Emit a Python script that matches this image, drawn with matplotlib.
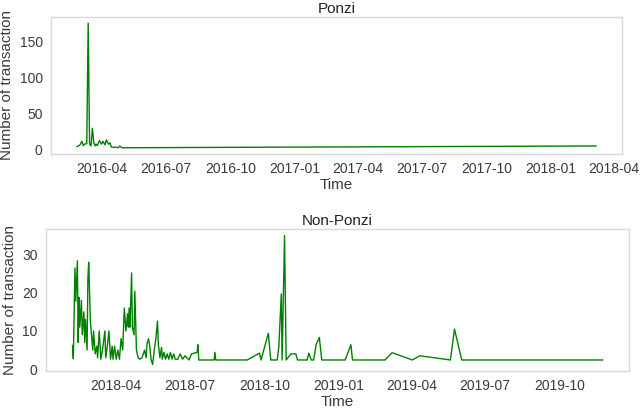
import matplotlib
matplotlib.use("Agg")
import matplotlib.pyplot as plt
import matplotlib.dates as mdates
import pandas as pd

# ponzi contracts: transactions per day
ponzi_dates = ["2016-02-25", "2016-02-29", "2016-03-03", "2016-03-05", "2016-03-07",
               "2016-03-10", "2016-03-12", "2016-03-14", "2016-03-16", "2016-03-18",
               "2016-03-20", "2016-03-22", "2016-03-23", "2016-03-25", "2016-03-28",
               "2016-03-31", "2016-04-02", "2016-04-05", "2016-04-07", "2016-04-10",
               "2016-04-12", "2016-04-14", "2016-04-17", "2016-04-19", "2016-04-24",
               "2016-04-26", "2016-04-29", "2018-03-06"]
ponzi_counts = [4.7, 6.4, 12, 6, 8,
                9, 176, 8, 5.6, 30,
                10, 5.6, 8, 6, 13,
                8, 12, 7, 14, 8,
                10, 4, 3.5, 4, 3,
                5.5, 3, 5.5]

# non-ponzi contracts
nonponzi_dates = ["2018-02-06", "2018-02-07", "2018-02-09", "2018-02-10", "2018-02-12",
                  "2018-02-13", "2018-02-14", "2018-02-15", "2018-02-17", "2018-02-18",
                  "2018-02-20", "2018-02-21", "2018-02-22", "2018-02-24", "2018-02-25",
                  "2018-02-26", "2018-02-28", "2018-03-01", "2018-03-03", "2018-03-04",
                  "2018-03-06", "2018-03-08", "2018-03-09", "2018-03-11", "2018-03-13",
                  "2018-03-15", "2018-03-18", "2018-03-19", "2018-03-21", "2018-03-23",
                  "2018-03-25", "2018-03-27", "2018-03-28", "2018-03-30", "2018-04-01",
                  "2018-04-03", "2018-04-05", "2018-04-07", "2018-04-09", "2018-04-11",
                  "2018-04-13", "2018-04-15", "2018-04-16", "2018-04-17", "2018-04-18",
                  "2018-04-20", "2018-04-21", "2018-04-23", "2018-04-24", "2018-04-26",
                  "2018-04-28", "2018-04-30", "2018-05-03", "2018-05-06", "2018-05-08",
                  "2018-05-09", "2018-05-11", "2018-05-13", "2018-05-14", "2018-05-16",
                  "2018-05-18", "2018-05-20", "2018-05-22", "2018-05-23", "2018-05-25",
                  "2018-05-27", "2018-05-28", "2018-05-30", "2018-06-01", "2018-06-03",
                  "2018-06-05", "2018-06-07", "2018-06-09", "2018-06-11", "2018-06-13",
                  "2018-06-16", "2018-06-19", "2018-06-22", "2018-06-25", "2018-06-30",
                  "2018-07-03", "2018-07-10", "2018-07-11", "2018-07-12", "2018-07-31",
                  "2018-08-01", "2018-08-02", "2018-09-10", "2018-09-25", "2018-09-27",
                  "2018-10-06", "2018-10-09", "2018-10-17", "2018-10-19", "2018-10-22",
                  "2018-10-23", "2018-10-26", "2018-10-28", "2018-11-03", "2018-11-09",
                  "2018-11-11", "2018-11-23", "2018-11-25", "2018-11-28", "2018-12-01",
                  "2018-12-04", "2018-12-08", "2018-12-11", "2019-01-09", "2019-01-16",
                  "2019-01-18", "2019-02-27", "2019-03-08", "2019-04-02", "2019-04-11",
                  "2019-05-19", "2019-05-24", "2019-06-02", "2019-11-23"]
nonponzi_counts = [6.2, 2.7, 26.5, 17.8, 28.4,
                   7, 18.8, 11, 18, 9,
                   15, 7, 13, 5, 23.6,
                   28, 13, 10, 5, 10,
                   4, 6, 3, 10, 2.6,
                   5, 10, 3, 6, 10,
                   2.6, 6, 2.6, 6, 2.6,
                   5, 2.6, 8, 5, 16,
                   10, 14.5, 11, 16, 11,
                   25.2, 11, 9, 20.4, 5,
                   3, 2.6, 3, 5, 3,
                   6.6, 8, 5, 2.6, 1.2,
                   5, 8, 12.6, 6.6, 3,
                   5.7, 2.6, 4.4, 2.6, 4,
                   2.6, 4.4, 2.6, 4, 2.6,
                   2.6, 4, 2.6, 3.5, 2.4,
                   4, 4.4, 6.4, 2.4, 2.4,
                   4.4, 2.4, 2.4, 4.2, 2.4,
                   9.4, 2.4, 2.4, 6, 19.7,
                   2.4, 35, 2.4, 4, 4,
                   2.4, 2.4, 4.2, 2.4, 2.4,
                   6.4, 8.3, 2.4, 2.4, 6.4,
                   2.4, 2.4, 4.3, 2.4, 3.5,
                   2.4, 10.5, 2.4, 2.4]

plt.rcParams['font.family'] = ['Liberation Sans', 'DejaVu Sans']
text_col = '#3a3a3a'
spine_col = '#d9d9d9'

fig = plt.figure(figsize=(6.4, 4.09), dpi=100)
ax1 = fig.add_axes([0.0797, 0.6235, 0.892, 0.335])
ax2 = fig.add_axes([0.0719, 0.0929, 0.911, 0.347])

panels = [(ax1, ponzi_dates, ponzi_counts, 'Ponzi'),
          (ax2, nonponzi_dates, nonponzi_counts, 'Non-Ponzi')]

for ax, d, c, title in panels:
    ax.plot(pd.to_datetime(d), c, color='green', linewidth=1)
    ax.set_title(title, fontsize=11, color='#222222', pad=3)
    ax.set_xlabel('Time', fontsize=11, color=text_col, labelpad=1)
    ax.set_ylabel('Number of transaction', fontsize=11, color=text_col, labelpad=4)
    ax.xaxis.set_major_locator(mdates.MonthLocator(bymonth=[1, 4, 7, 10]))
    ax.xaxis.set_major_formatter(mdates.DateFormatter('%Y-%m'))
    ax.tick_params(length=0, labelsize=10, labelcolor=text_col, pad=6)
    for s in ax.spines.values():
        s.set_color(spine_col)
        s.set_linewidth(1)

plt.savefig("out.png", dpi=100)
